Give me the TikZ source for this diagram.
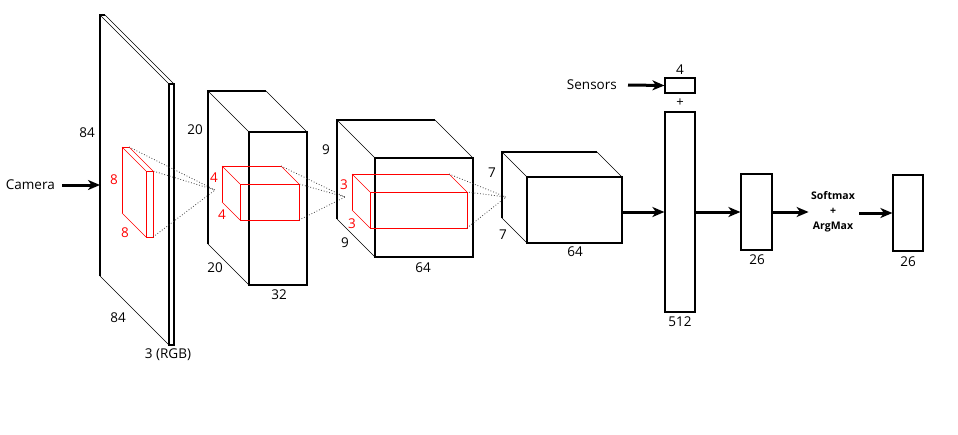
\documentclass[tikz,border=0pt]{standalone}
\usepackage{fontspec}
\setmainfont{Open Sans}
\usetikzlibrary{arrows.meta,calc}
\newcommand{\cuboid}[7]{%
  \draw[#6,line width=#7] (#1,#2) rectangle (#3,#4);
  \draw[#6,line width=#7] ({#1-#5},{#4-#5}) -- ({#1-#5},{#2-#5}) -- ({#3-#5},{#2-#5});
  \draw[#6,line width=0.6pt] ({#1-#5},{#2-#5}) -- (#1,#2)
        ({#3-#5},{#2-#5}) -- (#3,#2)
        ({#1-#5},{#4-#5}) -- (#1,#4);
}
\newcommand{\rays}[6]{%
  \draw[black!75,dotted,line width=0.8pt] ({#3-#5},{#2-#5}) -- (#6) -- (#3,#2) (#3,#4) -- (#6);
}
\tikzset{
  lbl/.style={font=\fontsize{13.5}{15}\selectfont,inner sep=0pt},
  rlbl/.style={lbl,text=red},
  vec/.style={draw,line width=1.2pt,minimum width=30pt,inner sep=0pt},
  big/.style={-{Stealth[length=12pt,width=10pt,inset=3.5pt]},line width=3pt},
}
\begin{document}
\begin{tikzpicture}[x=1pt,y=-1pt]
\useasboundingbox[fill=white] (0,0) rectangle (958,434);
% input plane
\cuboid{169}{84}{174}{345}{69}{black}{1.2pt}
\cuboid{146}{171}{153}{237}{24}{red}{0.9pt}
\coordinate (a1) at (215,190);
\rays{146}{171}{153}{237}{24}{a1}
% conv 1
\cuboid{249}{132}{307}{285}{41}{black}{1.3pt}
\cuboid{240}{184}{299}{220}{18}{red}{0.9pt}
\coordinate (a2) at (345,197);
\rays{240}{184}{299}{220}{18}{a2}
% conv 2
\cuboid{375}{158}{473}{257}{38}{black}{1.3pt}
\cuboid{370}{192}{467}{228}{18}{red}{0.9pt}
\coordinate (a3) at (506,197);
\rays{370}{192}{467}{228}{18}{a3}
% conv 3
\cuboid{527}{177}{622}{243}{25}{black}{1.3pt}
% labels
\node[lbl] (l84a) at (87,133) {84};
\node[lbl] (l84b) at (118,318) {84};
\node[lbl] (lrgb) at (168,355) {3 (RGB)};
\node[rlbl] (r8a) at (114,180) {8};
\node[rlbl] (r8b) at (125,233) {8};
\node[lbl] (l20a) at (195,130) {20};
\node[lbl] (l20b) at (215,268) {20};
\node[lbl] (l32) at (279,295) {32};
\node[rlbl] (r4a) at (214,178) {4};
\node[rlbl] (r4b) at (222,215) {4};
\node[lbl] (l9a) at (326,150) {9};
\node[lbl] (l9b) at (345,243) {9};
\node[lbl] (l64a) at (423,268) {64};
\node[rlbl] (r3a) at (344,185) {3};
\node[rlbl] (r3b) at (352,224) {3};
\node[lbl] (l7a) at (492,173) {7};
\node[lbl] (l7b) at (503,235) {7};
\node[lbl] (l64b) at (575,252) {64};
% camera
\node[lbl,anchor=east] (cam) at (55,185) {Camera};
\coordinate (camin) at (100,185);
\draw[big] (cam.east)++(7pt,0) -- (camin);
% dense layers
\node[vec,minimum height=200pt] (fc) at (680,212) {};
\node[vec,minimum height=15pt] (sens) at (680,85.5) {};
\node[lbl] (l4) at (680,70) {4};
\node[lbl,font=\fontsize{13}{14}\selectfont] (plus) at (680,103) {+};
\node[lbl] (l512) at (680,322) {512};
\node[lbl,anchor=east] (sname) at (617,85) {Sensors};
\draw[big] (sname.east)++(11pt,0) -- (sens.west);
\coordinate (c4out) at (622,212);
\draw[big] (c4out) -- (fc.west |- c4out);
\node[vec,minimum width=31pt,minimum height=76pt] (o1) at (756.5,212) {};
\node[lbl] (l26a) at (757,260) {26};
\draw[big] (fc.east |- o1.west) -- (o1.west);
\node[font=\fontsize{10.5}{15}\selectfont\bfseries,align=center,inner sep=0pt] (sm) at (833,212) {Softmax\\+\\ArgMax};
\draw[big] (o1.east) -- ++(36pt,0);
\node[vec,minimum width=30pt,minimum height=76pt] (o2) at (908,213) {};
\node[lbl] (l26b) at (908,262) {26};
\draw[big] (859,213) -- (o2.west);
\end{tikzpicture}
\end{document}
